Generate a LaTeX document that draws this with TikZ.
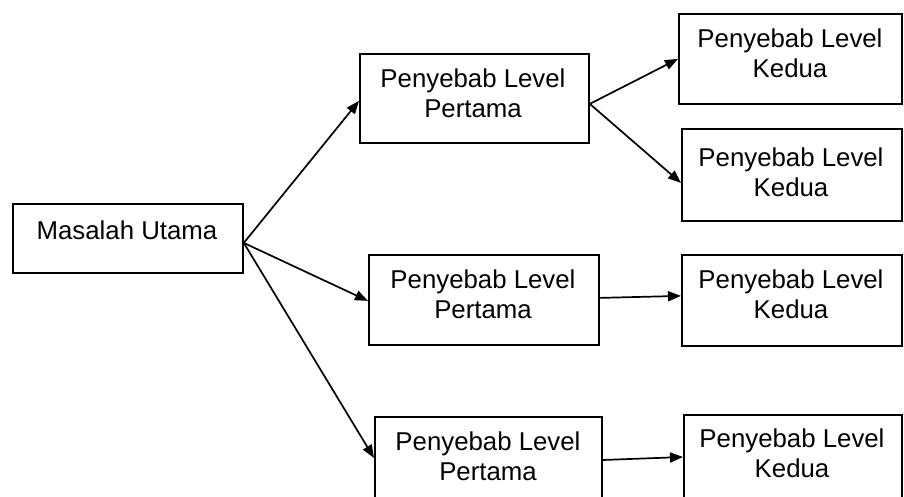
\documentclass[tikz,border=0pt]{standalone}
\usepackage{fontspec}
\setmainfont{Liberation Sans}
\usetikzlibrary{arrows.meta}
\tikzset{
  box/.style={draw, line width=1.8pt, inner sep=0pt, anchor=north west},
  lbl/.style={align=center, font=\fontsize{25.8}{30}\selectfont, inner sep=0pt},
  arr/.style={line width=1.7pt, -{Triangle[length=13pt,width=10pt]}}
}
\begin{document}
\begin{tikzpicture}[x=1pt,y=-1pt]
\useasboundingbox (0,0) rectangle (904,497);
\fill[white] (0,0) rectangle (904,497);
\clip (0,0) rectangle (904,497);
% boxes
\node[box, minimum width=230pt, minimum height=69pt] (M) at (12,203) {};
\node[box, minimum width=229pt, minimum height=89pt] (P1) at (359,53) {};
\node[box, minimum width=230pt, minimum height=90pt] (P2) at (368,254) {};
\node[box, minimum width=227pt, minimum height=110pt] (P3) at (374,416) {};
\node[box, minimum width=223pt, minimum height=90pt] (K1) at (678,13) {};
\node[box, minimum width=220pt, minimum height=92pt] (K2) at (681,128) {};
\node[box, minimum width=220pt, minimum height=91pt] (K3) at (681,254) {};
\node[box, minimum width=218pt, minimum height=110pt] (K4) at (683,414) {};
% labels
\node[lbl] (tM) at (127,230) {Masalah Utama};
\node[lbl] (tP1) at (473,93) {Penyebab Level\\Pertama};
\node[lbl] (tP2) at (483,294) {Penyebab Level\\Pertama};
\node[lbl] (tP3) at (488,456) {Penyebab Level\\Pertama};
\node[lbl] (tK1) at (790,53) {Penyebab Level\\Kedua};
\node[lbl] (tK2) at (791,172) {Penyebab Level\\Kedua};
\node[lbl] (tK3) at (791,294) {Penyebab Level\\Kedua};
\node[lbl] (tK4) at (792,453) {Penyebab Level\\Kedua};
% connectors
\draw[arr] ([yshift=-4.5pt]M.east) -- ([yshift=-2.5pt]P1.west);
\draw[arr] ([yshift=-4.5pt]M.east) -- ([yshift=-1pt]P2.west);
\draw[arr] ([yshift=-4.5pt]M.east) -- ([yshift=-42pt]P3.north west);
\draw[arr] ([yshift=-5.5pt]P1.east) -- (K1.west);
\draw[arr] ([yshift=-5.5pt]P1.east) -- ([yshift=-8pt]K2.west);
\draw[arr] ([yshift=2pt]P2.east) -- ([yshift=4.5pt]K3.west);
\draw[arr] ([yshift=-44pt]P3.north east) -- ([yshift=-43pt]K4.north west);
\end{tikzpicture}
\end{document}
